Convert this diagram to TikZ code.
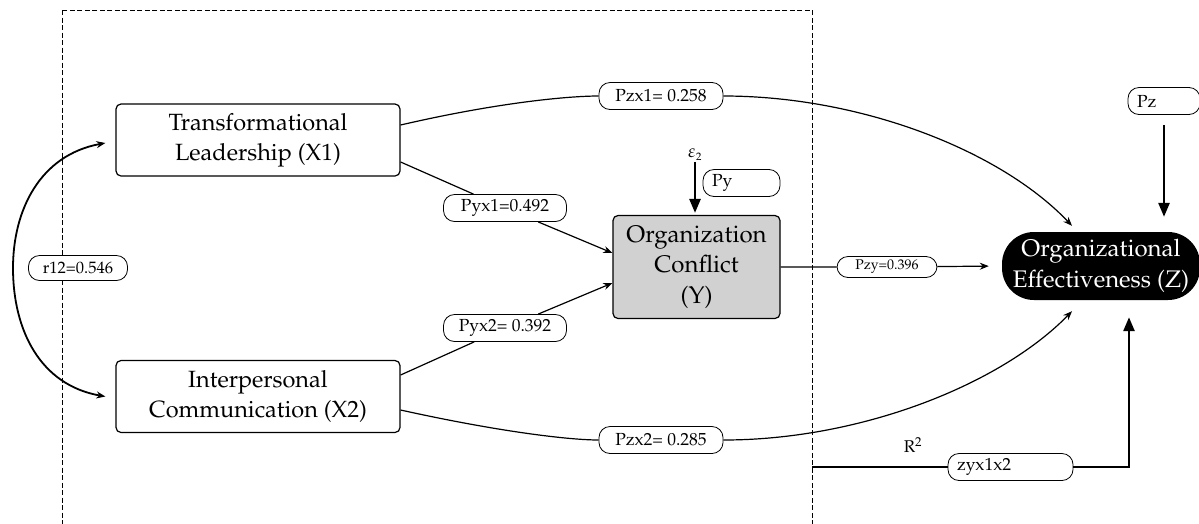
\documentclass[tikz,border=0pt]{standalone}
\usepackage[T1]{fontenc}
\usepackage{mathpazo}
\usetikzlibrary{arrows.meta}
\begin{document}
\begin{tikzpicture}[x=1pt,y=-1pt,
  var/.style={draw, line width=1.2pt, rounded corners=5pt, minimum width=284pt, minimum height=72pt, align=center, inner sep=0pt, font=\fontsize{23.5}{30}\selectfont},
  lbl/.style={draw, fill=white, line width=0.8pt, rounded corners=11pt, inner sep=0pt, minimum height=27pt, font=\fontsize{17.5}{20}\selectfont},
  lbll/.style={lbl, inner xsep=9pt, align=left},
  arr/.style={line width=1.2pt, -{Stealth[length=9pt,width=7pt]}},
  thk/.style={line width=2.6pt, -{Triangle[length=14pt,width=11pt]}},
]
\useasboundingbox (0,0) rectangle (1199,523);
\draw[line width=1pt, dash pattern=on 5pt off 2.5pt] (62,10) rectangle (812,545);

\node[var] (x1) at (258,140) {Transformational\\Leadership (X1)};
\node[var] (x2) at (258,396.5) {Interpersonal\\Communication (X2)};
\node[var, fill=black!18, minimum width=167pt, minimum height=103pt, font=\fontsize{24}{30.5}\selectfont] (y) at (696.5,267) {Organization\\Conflict\\(Y)};
\node[fill=black, text=white, rounded corners=32pt, minimum width=198pt, minimum height=68pt, align=center, inner sep=0pt, font=\fontsize{24}{31}\selectfont] (z) at (1101,266) {Organizational\\Effectiveness (Z)};

\node[lbl, minimum width=124pt] (pzx1) at (661,96) {Pzx1= 0.258};
\node[lbl, minimum width=123pt] (pyx1) at (505,208) {Pyx1=0.492};
\node[lbl, minimum width=123pt] (pyx2) at (505,328) {Pyx2= 0.392};
\node[lbl, minimum width=124pt] (pzx2) at (661,440) {Pzx2= 0.285};
\node[lbl, minimum width=99pt, minimum height=25pt, font=\fontsize{16.5}{19}\selectfont] (r12) at (78,268) {r12=0.546};
\node[lbl, minimum width=100pt, minimum height=21pt, font=\fontsize{14}{16}\selectfont] (pzy) at (887,267) {Pzy=0.396};
\node[lbll, text width=54pt] (pz) at (1164,101) {Pz};
\node[lbll, text width=59pt, minimum height=27pt] (py) at (741.5,183) {Py};
\node[lbll, text width=107pt] (zyx) at (1010.5,467) {zyx1x2};
\node[font=\fontsize{18}{20}\selectfont, inner sep=1pt] (eps) at (695,155) {$\varepsilon_{\scriptscriptstyle 2}$};
\node[font=\fontsize{17}{19}\selectfont, inner sep=1pt] (r2) at (913,445) {R$^{\scriptstyle 2}$};

% correlation
\coordinate (ct) at ([xshift=-10pt,yshift=-3pt]x1.west);
\coordinate (cb) at ([xshift=-10pt]x2.west);
\draw[line width=1.8pt, {Stealth[length=9pt,width=7pt]}-{Stealth[length=9pt,width=7pt]}]
  (ct) .. controls (40,155) and (13,210) .. (13,268) .. controls (13,330) and (40,385) .. (cb);

% paths to Y
\draw[arr] ([yshift=-22pt]x1.east) -- (pyx1) -- ([yshift=14pt]y.west);
\draw[arr] ([yshift=21.5pt]x2.east) -- (pyx2) -- ([yshift=-16pt]y.west);

% curves to Z
\draw[line width=1.2pt] ([yshift=15pt]x1.east) .. controls (500,102) and (570,96) .. (pzx1.west);
\draw[arr] (pzx1.east) .. controls (860,96) and (1000,150) .. ([shift={(-29pt,6pt)}]z.north);
\draw[line width=1.2pt] ([yshift=-13.5pt]x2.east) .. controls (500,432) and (570,440) .. (pzx2.west);
\draw[arr] (pzx2.east) .. controls (860,440) and (1000,385) .. ([shift={(-29pt,-11pt)}]z.south);

% Y to Z
\draw[arr, shorten >=13pt] (y.east) -- (pzy) -- (z.west);

% disturbances
\draw[thk] ([yshift=-10pt]pz.south) -- ([yshift=15pt]pz.south |- z.north);
\draw[thk] (eps) -- ([yshift=2pt]eps |- y.north);

% R2 path
\coordinate (rs) at (812,467);
\coordinate (corner) at (1129,467);
\draw[thk] (rs) -- (zyx) -- (corner) -- ([yshift=-17pt]corner |- z.south);
\end{tikzpicture}
\end{document}
